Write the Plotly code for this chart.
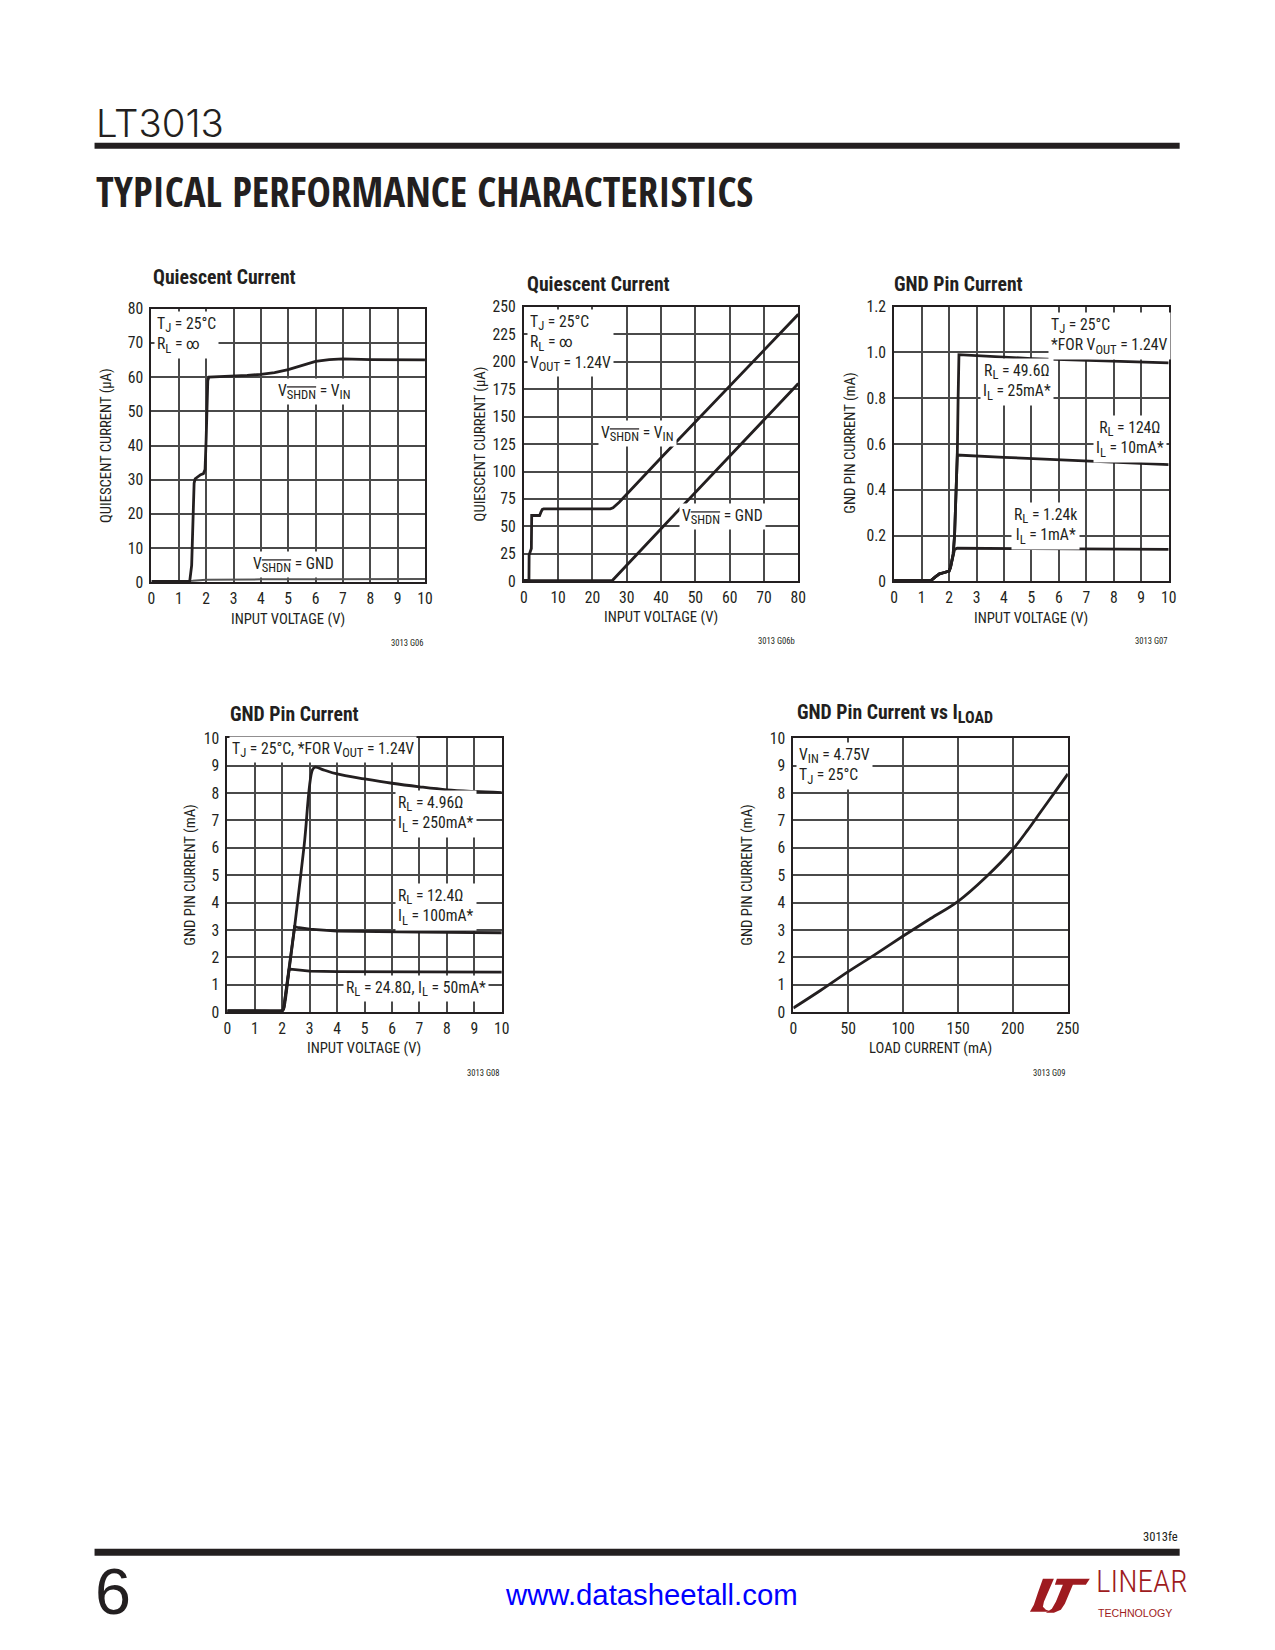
import plotly.graph_objects as go

# figure kept a little smaller than the window; the page maps figure pixels to
# screen pixels as screen = S * fig + (OX, OY), measured from earlier renders.
W, H = 1259, 1634
OX, OY, S = 3.3, 8.2, 0.989
FONT = "Roboto Condensed, Roboto, sans-serif"
TICKFONT = "Roboto Condensed, Roboto, sans-serif"
TITLEFONT = "Roboto Condensed, Roboto, sans-serif"
INK = "#231f20"

# ---------------- data ----------------
# Chart 1: Quiescent Current (0-10 V)
q1_vin_x = [0, 0.5, 1.0, 1.4, 1.47, 1.52, 1.56, 1.6, 1.7, 1.8, 1.9, 1.96, 2.0, 2.03, 2.06, 2.1, 2.5, 3, 3.5, 4, 4.5, 5, 5.5, 6, 6.5, 7, 8, 9, 10]
q1_vin_y = [0.3, 0.3, 0.3, 0.4, 5, 20, 29, 30.3, 31, 31.5, 31.8, 33, 42, 52, 59, 60, 60.1, 60.2, 60.5, 60.8, 61.3, 62.2, 63.5, 64.6, 65.1, 65.3, 65.1, 65, 65]
q1_gnd_x = [0, 1, 1.5, 2, 3, 4, 6, 8, 10]
q1_gnd_y = [0.3, 0.3, 0.5, 0.8, 0.9, 0.9, 0.9, 0.9, 1.0]

# Chart 2: Quiescent Current (0-80 V)
q2_vin_x = [0, 1.5, 1.55, 1.7, 2.0, 2.2, 2.3, 4.6, 5.0, 5.4, 5.8, 25.2, 26.0, 26.8, 27.8, 40, 60, 80]
q2_vin_y = [1, 1, 24, 26, 28, 30, 60, 60, 63, 65.5, 66, 66, 67, 69.5, 72, 112.5, 178, 243]
q2_gnd_x = [0, 25.8, 40, 60, 80]
q2_gnd_y = [0.8, 0.8, 48, 114, 180]

# Chart 3: GND Pin Current (mA), low loads
g3_1ma_x = [0, 1.0, 1.35, 1.5, 1.65, 1.8, 2.0, 2.05, 2.1, 2.15, 2.2, 2.3, 3, 5, 10]
g3_1ma_y = [0.005, 0.005, 0.005, 0.02, 0.033, 0.038, 0.045, 0.06, 0.09, 0.12, 0.14, 0.145, 0.145, 0.143, 0.14]
g3_10ma_x = [0, 1.0, 1.35, 1.5, 1.65, 1.8, 2.0, 2.05, 2.1, 2.15, 2.2, 2.25, 2.3, 4, 6, 8, 10]
g3_10ma_y = [0.005, 0.005, 0.005, 0.02, 0.033, 0.038, 0.045, 0.06, 0.09, 0.12, 0.2, 0.35, 0.552, 0.542, 0.532, 0.52, 0.51]
g3_25ma_x = [0, 1.0, 1.35, 1.5, 1.65, 1.8, 2.0, 2.05, 2.1, 2.15, 2.2, 2.25, 2.3, 2.33, 2.36, 5, 10]
g3_25ma_y = [0.005, 0.005, 0.005, 0.02, 0.033, 0.038, 0.045, 0.06, 0.09, 0.12, 0.2, 0.35, 0.552, 0.8, 0.99, 0.973, 0.954]

# Chart 4: GND Pin Current (mA), high loads
g4_250_x = [0, 1, 2.0, 2.05, 2.25, 2.45, 2.8, 3.1, 3.2, 3.5, 4, 5, 6, 7, 8, 9, 10]
g4_250_y = [0.05, 0.05, 0.05, 0.12, 1.55, 3.1, 6.1, 8.85, 8.95, 8.85, 8.7, 8.52, 8.36, 8.23, 8.12, 8.06, 8.02]
g4_100_x = [0, 1, 2.0, 2.05, 2.25, 2.45, 2.55, 3, 4, 5, 7, 10]
g4_100_y = [0.05, 0.05, 0.05, 0.12, 1.55, 3.12, 3.1, 3.03, 2.96, 2.94, 2.92, 2.9]
g4_50_x = [0, 1, 2.0, 2.05, 2.25, 2.3, 3, 4, 6, 10]
g4_50_y = [0.05, 0.05, 0.05, 0.12, 1.55, 1.57, 1.5, 1.48, 1.47, 1.46]

# Chart 5: GND Pin Current vs ILOAD
g5_x = [0, 25, 50, 75, 100, 125, 150, 175, 200, 212.5, 225, 237.5, 250]
g5_y = [0.15, 0.8, 1.48, 2.12, 2.78, 3.42, 4.05, 4.92, 5.95, 6.6, 7.3, 8.0, 8.7]

# plot-area rectangles in page pixels: (left, top, right, bottom)
boxes = {
    1: (151, 307, 425, 581),
    2: (524, 305, 799, 580),
    3: (895, 305, 1170, 580),
    4: (227, 737, 502, 1011),
    5: (794, 737, 1069, 1011),
}
ranges = {
    1: ([0, 10], 1, [0, 80], 10),
    2: ([0, 80], 10, [0, 250], 25),
    3: ([0, 10], 1, [0, 1.2], 0.2),
    4: ([0, 10], 1, [0, 10], 1),
    5: ([0, 250], 50, [0, 10], 1),
}

def px(x):
    return ((x - OX) / S) / W

def py(y):
    return 1 - ((y - OY) / S) / H

def fs(v):
    return round(v / S, 2)

fig = go.Figure()

def add_line(k, xs, ys, width=2.8, color=INK, shape="linear"):
    sfx = "" if k == 1 else str(k)
    fig.add_trace(go.Scatter(x=xs, y=ys, mode="lines", xaxis="x" + sfx, yaxis="y" + sfx,
                             line=dict(color=color, width=width, shape=shape),
                             showlegend=False, hoverinfo="skip"))

add_line(1, q1_gnd_x, q1_gnd_y, width=2.0, color="#555555")
add_line(1, q1_vin_x, q1_vin_y)
add_line(2, q2_gnd_x, q2_gnd_y)
add_line(2, q2_vin_x, q2_vin_y)
add_line(3, g3_1ma_x, g3_1ma_y)
add_line(3, g3_10ma_x, g3_10ma_y)
add_line(3, g3_25ma_x, g3_25ma_y)
add_line(4, g4_50_x, g4_50_y)
add_line(4, g4_100_x, g4_100_y)
add_line(4, g4_250_x, g4_250_y, shape="spline")
add_line(5, g5_x, g5_y, shape="spline")

layout = dict(
    width=W, height=H, margin=dict(l=0, r=0, t=0, b=0),
    paper_bgcolor="white", plot_bgcolor="white", showlegend=False,
    font=dict(family=FONT, color=INK),
)
for k, (l, t, r, b) in boxes.items():
    sfx = "" if k == 1 else str(k)
    xr, dx, yr, dy = ranges[k]
    ax = dict(showgrid=True, gridcolor="#4a4a4a", gridwidth=1.5, showline=True, mirror=True,
              linecolor=INK, linewidth=2, zeroline=False, ticks="", fixedrange=True,
              tickfont=dict(family=TICKFONT, size=fs(15.5), color=INK))
    layout["xaxis" + sfx] = dict(ax, domain=[px(l), px(r)], range=xr, dtick=dx, tick0=0,
                                 anchor="y" + sfx, ticklabelstandoff=1)
    ytick = dict(ax, domain=[py(b), py(t)], range=yr, dtick=dy, tick0=0, anchor="x" + sfx,
                 ticklabelstandoff=3)
    if k == 3:
        ytick["tickvals"] = [0, 0.2, 0.4, 0.6, 0.8, 1.0, 1.2]
        ytick["ticktext"] = ["0", "0.2", "0.4", "0.6", "0.8", "1.0", "1.2"]
    layout["yaxis" + sfx] = ytick
fig.update_layout(**layout)

ann = []

def sub(s):
    return "<sub><span style='font-size:12.6px'>" + s + "</span></sub>"

SH = "V<sub><span style='font-size:12.6px;text-decoration:overline'>SHDN</span></sub>"
TJ = "T" + sub("J") + " = 25°C"
RL = "R" + sub("L")
IL = "I" + sub("L")
VOUT = "V" + sub("OUT")
VIN = "V" + sub("IN")

def lab(k, x, y, text, xanchor="center", yanchor="middle", align="center", size=15.5, bg="white"):
    sfx = "" if k == 1 else str(k)
    ann.append(dict(x=x, y=y, xref="x" + sfx, yref="y" + sfx, text=text, showarrow=False,
                    xanchor=xanchor, yanchor=yanchor, align=align, bgcolor=bg, borderpad=2,
                    font=dict(family=FONT, size=fs(size), color=INK)))

def page(x, y, text, size, xanchor="left", yanchor="middle", family=FONT, color=INK, textangle=0, align="left", weight=None):
    f = dict(family=family, size=fs(size), color=color)
    if weight is not None:
        f["weight"] = weight
    ann.append(dict(x=px(x), y=py(y), xref="paper", yref="paper", text=text, showarrow=False,
                    xanchor=xanchor, yanchor=yanchor, textangle=textangle, align=align, font=f))

# chart 1 labels
lab(1, 0.1, 79.3, TJ + "<br>" + RL + " = ∞", xanchor="left", yanchor="top", align="left")
lab(1, 5.95, 55.8, SH + " = " + VIN)
lab(1, 5.2, 5.3, SH + " = GND")
# chart 2 labels
lab(2, 0.8, 248, TJ + "<br>" + RL + " = ∞<br>" + VOUT + " = 1.24V", xanchor="left", yanchor="top", align="left")
lab(2, 33.2, 134.5, SH + " = " + VIN)
lab(2, 57.9, 59, SH + " = GND")
# chart 3 labels
lab(3, 5.6, 1.178, TJ + "<br>*FOR " + VOUT + " = 1.24V", xanchor="left", yanchor="top", align="left")
lab(3, 4.47, 0.873, RL + " = 49.6Ω<br>" + IL + " = 25mA*")
lab(3, 8.6, 0.624, RL + " = 124Ω<br>" + IL + " = 10mA*")
lab(3, 5.53, 0.24, RL + " = 1.24k<br>" + IL + " = 1mA*")
# chart 4 labels
lab(4, 0.06, 9.6, TJ + ", *FOR " + VOUT + " = 1.24V", xanchor="left", align="left")
lab(4, 6.1, 7.23, RL + " = 4.96Ω<br>" + IL + " = 250mA*", xanchor="left", align="left")
lab(4, 6.1, 3.83, RL + " = 12.4Ω<br>" + IL + " = 100mA*", xanchor="left", align="left")
lab(4, 6.87, 0.88, RL + " = 24.8Ω, " + IL + " = 50mA*")
# chart 5 labels
lab(5, 2.0, 9.88, VIN + " = 4.75V<br>" + TJ, xanchor="left", yanchor="top", align="left")

# chart titles
page(151, 276, "<b>Quiescent Current</b>", 19.5, family=TITLEFONT)
page(525, 283, "<b>Quiescent Current</b>", 19.5, family=TITLEFONT)
page(893, 283, "<b>GND Pin Current</b>", 19.5, family=TITLEFONT)
page(228, 713, "<b>GND Pin Current</b>", 19.5, family=TITLEFONT)
page(796, 713, "<b>GND Pin Current vs I<sub><span style='font-size:16px'>LOAD</span></sub></b>", 19.5, family=TITLEFONT)

# axis titles
AT = 14.5
page(288, 618, "INPUT VOLTAGE (V)", AT, xanchor="center")
page(661, 616, "INPUT VOLTAGE (V)", AT, xanchor="center")
page(1032, 617, "INPUT VOLTAGE (V)", AT, xanchor="center")
page(364, 1047, "INPUT VOLTAGE (V)", AT, xanchor="center")
page(931, 1047, "LOAD CURRENT (mA)", AT, xanchor="center")
page(105, 444, "QUIESCENT CURRENT (μA)", AT, xanchor="center", textangle=-90)
page(480, 442, "QUIESCENT CURRENT (μA)", AT, xanchor="center", textangle=-90)
page(850, 442, "GND PIN CURRENT (mA)", AT, xanchor="center", textangle=-90)
page(190, 874, "GND PIN CURRENT (mA)", AT, xanchor="center", textangle=-90)
page(748, 874, "GND PIN CURRENT (mA)", AT, xanchor="center", textangle=-90)

# figure ids
page(425, 642, "3013 G06", 8.5, xanchor="right", family=TICKFONT)
page(798, 640, "3013 G06b", 8.5, xanchor="right", family=TICKFONT)
page(1170, 640, "3013 G07", 8.5, xanchor="right", family=TICKFONT)
page(501, 1072, "3013 G08", 8.5, xanchor="right", family=TICKFONT)
page(1068, 1072, "3013 G09", 8.5, xanchor="right", family=TICKFONT)

# header
page(93, 121, "LT3013", 38, family="Inter, Lato, sans-serif", weight=300)
page(93, 189, "TYPICAL PERFORMANCE CHARACTERISTICS", 40.5, family="Open Sans Condensed, Roboto Condensed, sans-serif", weight="bold")

# footer
page(1181, 1536, "3013fe", 12.5, xanchor="right", family=TICKFONT)
page(92, 1591, "6", 64, family="Liberation Sans, Arial, sans-serif")
page(652, 1594, "www.datasheetall.com", 29, xanchor="center", family="Liberation Sans, Arial, sans-serif", color="#0000ff")
MAROON = "#9e1b20"
page(1095, 1601, "LINEAR", 31, yanchor="bottom", family="Roboto Condensed, sans-serif", color=MAROON, weight=300)
page(1097, 1604, "TECHNOLOGY", 10.5, yanchor="top", family="Liberation Sans, Arial, sans-serif", color=MAROON)

fig.update_layout(annotations=ann)

def path(pts):
    return "M " + " L ".join(f"{px(x):.5f},{py(y):.5f}" for x, y in pts) + " Z"

shapes = [
    dict(type="rect", xref="paper", yref="paper", x0=px(94), x1=px(1181), y0=py(147), y1=py(141),
         fillcolor=INK, line=dict(width=0)),
    dict(type="rect", xref="paper", yref="paper", x0=px(94), x1=px(1181), y0=py(1555), y1=py(1548),
         fillcolor=INK, line=dict(width=0)),
    dict(type="path", xref="paper", yref="paper", fillcolor=MAROON, line=dict(width=0),
         path=path([(1044, 1578), (1055, 1578), (1045, 1601), (1044, 1606), (1047, 1609), (1053, 1611),
                    (1031, 1611), (1035, 1604), (1039, 1592)])),
    dict(type="path", xref="paper", yref="paper", fillcolor=MAROON, line=dict(width=0),
         path=path([(1058, 1578), (1091, 1578), (1087, 1584), (1074, 1584), (1066, 1603), (1062, 1609),
                    (1055, 1612), (1047, 1612), (1053, 1608), (1057, 1601), (1064, 1584), (1056, 1584)])),
]
fig.update_layout(shapes=shapes)

fig.write_html("out.html")
